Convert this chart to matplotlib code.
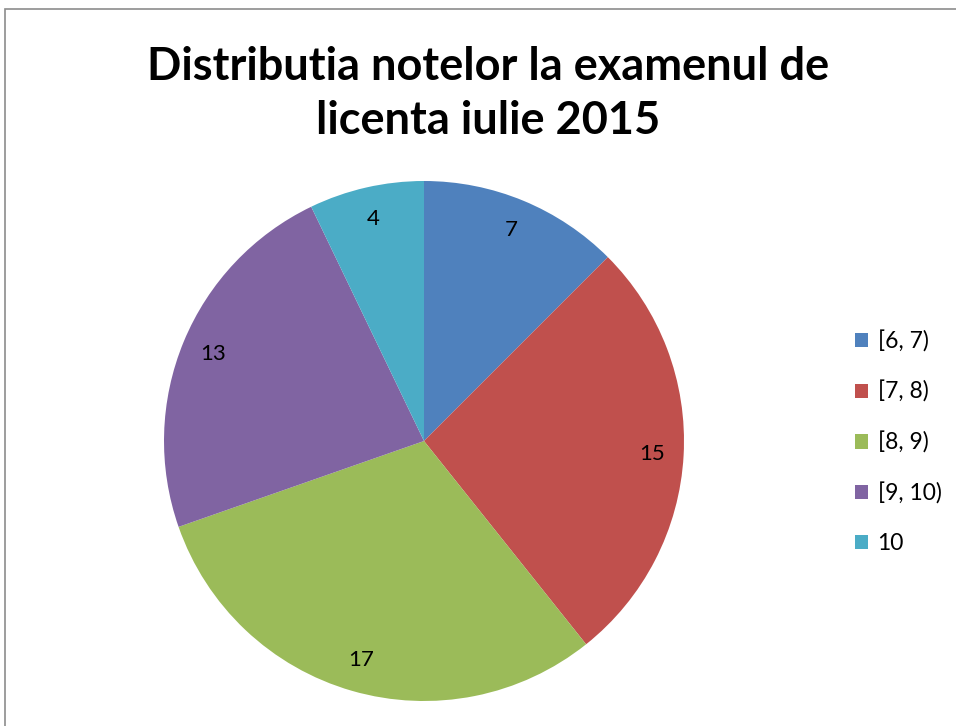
import matplotlib.pyplot as plt
from matplotlib.patches import Rectangle

# data
categories = ['[6, 7)', '[7, 8)', '[8, 9)', '[9, 10)', '10']
counts = [7, 15, 17, 13, 4]
colors = ['#4F81BD', '#C0504D', '#9BBB59', '#8064A2', '#4BACC6']

plt.rcParams['font.family'] = ['Lato', 'DejaVu Sans']

fig = plt.figure(figsize=(9.56, 7.26), dpi=100)

# chart area border (only left and top visible in the original crop)
fig.patches.append(Rectangle((5 / 956, -0.1), 1.2, 1 - 9 / 726 + 0.1,
                             transform=fig.transFigure, fill=False,
                             edgecolor='#8c8c8c', linewidth=1.2))

ax = fig.add_axes([164 / 956, 25 / 726, 520 / 956, 520 / 726])
wedges, texts, autotexts = ax.pie(
    counts, colors=colors, startangle=90, counterclock=False,
    autopct=lambda p: '%d' % round(p * sum(counts) / 100),
    pctdistance=0.877, wedgeprops=dict(linewidth=0),
    textprops=dict(fontsize=16, color='black'))
ax.set_xlim(-1, 1)
ax.set_ylim(-1, 1)
ax.set_aspect('equal')

fig.text(488 / 956, 1 - 94 / 726, 'Distributia notelor la examenul de\nlicenta iulie 2015',
         ha='center', va='center', fontsize=32.5, fontweight='bold',
         linespacing=1.36)

fig.legend(wedges, categories, loc='center left',
           bbox_to_anchor=(834 / 956, 1 - 442 / 726), frameon=False,
           fontsize=16.5, handlelength=0.6, handleheight=0.6,
           handletextpad=0.4, labelspacing=1.25)

fig.savefig('out.png', dpi=100)
